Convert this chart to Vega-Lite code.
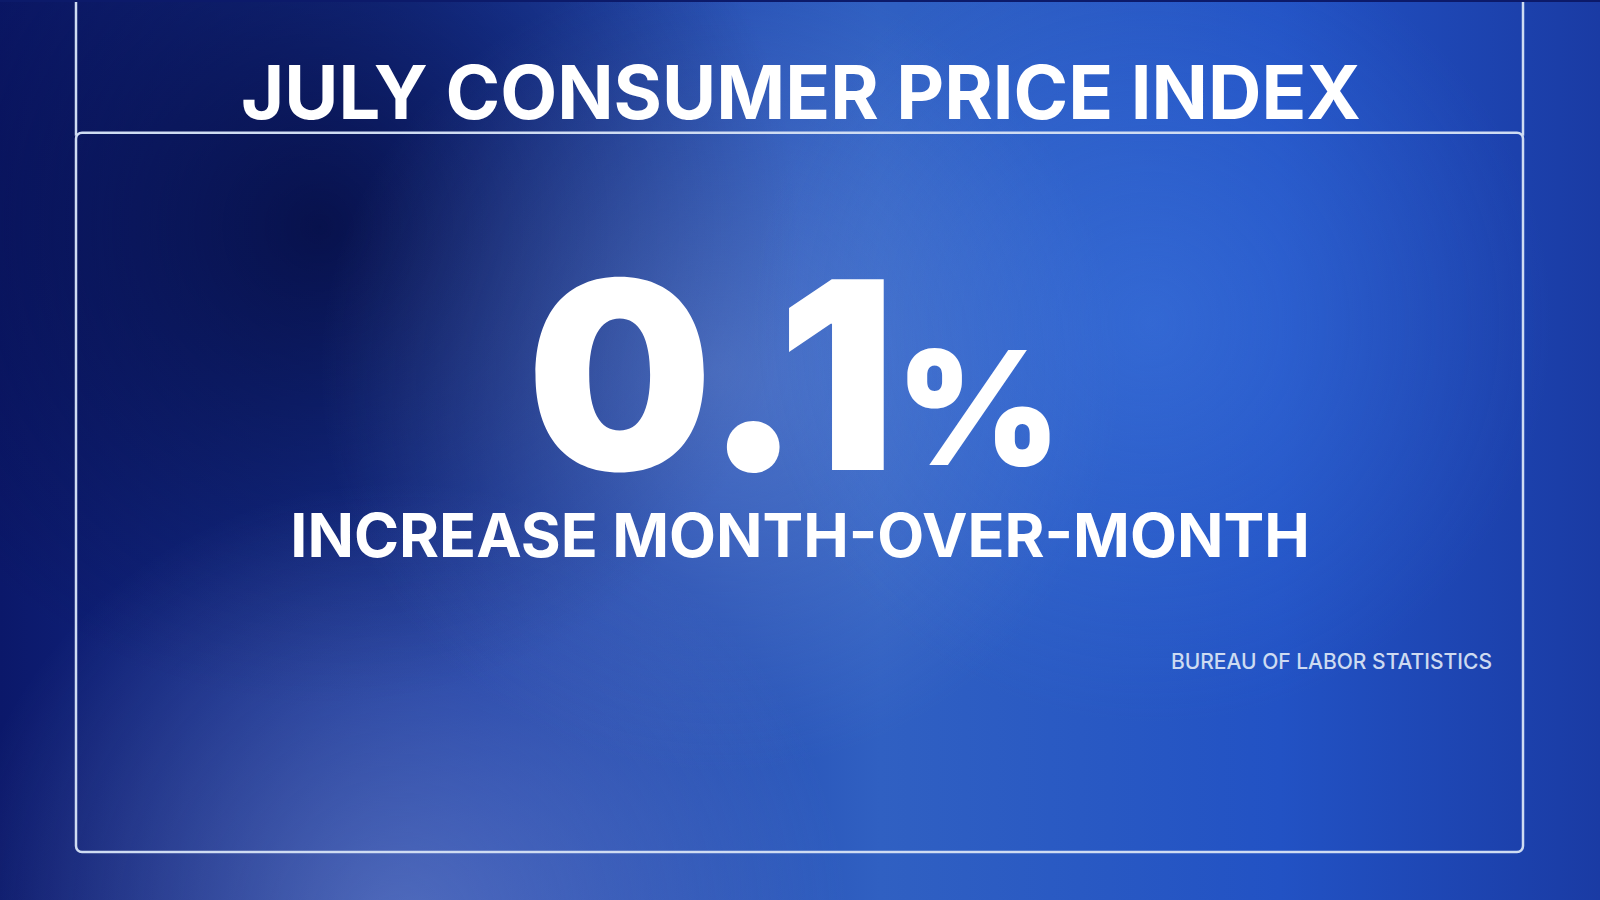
{
  "$schema": "https://vega.github.io/schema/vega-lite/v6.json",
  "width": 1600,
  "height": 900,
  "autosize": {"type": "fit", "contains": "padding"},
  "padding": 0,
  "background": "#0c1a6a",
  "config": {"view": {"stroke": null}},
  "data": {
    "values": [
      {"part": "title", "text": "JULY CONSUMER PRICE INDEX"},
      {"part": "value", "value": 0.1},
      {"part": "unit", "text": "%"},
      {"part": "subtitle", "text": "INCREASE MONTH-OVER-MONTH"},
      {"part": "source", "text": "BUREAU OF LABOR STATISTICS"}
    ]
  },
  "encoding": {
    "x": {"datum": 0, "type": "quantitative", "scale": {"domain": [0, 1600], "nice": false, "zero": false}, "axis": null},
    "y": {"datum": 0, "type": "quantitative", "scale": {"domain": [0, 900], "nice": false, "zero": false, "reverse": true}, "axis": null}
  },
  "layer": [
    {
      "data": {"values": [{}]},
      "mark": {"type": "rect", "color": {"gradient": "linear", "x1": 0, "y1": 0, "x2": 1, "y2": 0,
        "stops": [
          {"offset": 0, "color": "#0b186a"},
          {"offset": 0.3, "color": "#1a3aa0"},
          {"offset": 0.55, "color": "#3060c2"},
          {"offset": 0.8, "color": "#2252c4"},
          {"offset": 1, "color": "#1a3ba4"}
        ]}},
      "encoding": {"x": {"datum": 0}, "x2": {"datum": 1600}, "y": {"datum": 0}, "y2": {"datum": 900}}
    },
    {
      "data": {"values": [{}]},
      "mark": {"type": "rect", "color": {"gradient": "radial", "x1": 0.2, "y1": 0.36, "r1": 0, "x2": 0.2, "y2": 0.36, "r2": 0.3,
        "stops": [
          {"offset": 0, "color": "rgba(4,10,60,0.8)"},
          {"offset": 1, "color": "rgba(4,10,60,0)"}
        ]}},
      "encoding": {"x": {"datum": 0}, "x2": {"datum": 1600}, "y": {"datum": 0}, "y2": {"datum": 900}}
    },
    {
      "data": {"values": [{}]},
      "mark": {"type": "rect", "color": {"gradient": "radial", "x1": 0.25, "y1": 0.8, "r1": 0, "x2": 0.25, "y2": 0.8, "r2": 0.28,
        "stops": [
          {"offset": 0, "color": "rgba(150,175,235,0.45)"},
          {"offset": 1, "color": "rgba(150,175,235,0)"}
        ]}},
      "encoding": {"x": {"datum": 0}, "x2": {"datum": 1600}, "y": {"datum": 0}, "y2": {"datum": 900}}
    },
    {
      "data": {"values": [{}]},
      "mark": {"type": "rect", "color": {"gradient": "radial", "x1": 0.45, "y1": 0.45, "r1": 0, "x2": 0.45, "y2": 0.45, "r2": 0.25,
        "stops": [
          {"offset": 0, "color": "rgba(120,150,215,0.45)"},
          {"offset": 1, "color": "rgba(120,150,215,0)"}
        ]}},
      "encoding": {"x": {"datum": 0}, "x2": {"datum": 1600}, "y": {"datum": 0}, "y2": {"datum": 900}}
    },
    {
      "data": {"values": [{}]},
      "mark": {"type": "rect", "color": {"gradient": "radial", "x1": 0.42, "y1": 0.02, "r1": 0, "x2": 0.42, "y2": 0.02, "r2": 0.2,
        "stops": [
          {"offset": 0, "color": "rgba(100,140,215,0.45)"},
          {"offset": 1, "color": "rgba(100,140,215,0)"}
        ]}},
      "encoding": {"x": {"datum": 0}, "x2": {"datum": 1600}, "y": {"datum": 0}, "y2": {"datum": 900}}
    },
    {
      "data": {"values": [{}]},
      "mark": {"type": "rect", "color": {"gradient": "radial", "x1": 0.72, "y1": 0.42, "r1": 0, "x2": 0.72, "y2": 0.42, "r2": 0.25,
        "stops": [
          {"offset": 0, "color": "rgba(70,130,235,0.4)"},
          {"offset": 1, "color": "rgba(70,130,235,0)"}
        ]}},
      "encoding": {"x": {"datum": 0}, "x2": {"datum": 1600}, "y": {"datum": 0}, "y2": {"datum": 900}}
    },
    {
      "data": {"values": [{}]},
      "mark": {"type": "rect", "fill": null, "filled": false, "stroke": "#cfdcf2", "strokeWidth": 2.5, "cornerRadius": 6},
      "encoding": {"x": {"datum": 76}, "x2": {"datum": 1523}, "y": {"datum": 131}, "y2": {"datum": 852}}
    },
    {
      "data": {"values": [{}]},
      "mark": {"type": "rule", "stroke": "#cfdcf2", "strokeWidth": 2.5},
      "encoding": {"x": {"datum": 76}, "y": {"datum": 0}, "y2": {"datum": 134}}
    },
    {
      "data": {"values": [{}]},
      "mark": {"type": "rule", "stroke": "#cfdcf2", "strokeWidth": 2.5},
      "encoding": {"x": {"datum": 1523}, "y": {"datum": 0}, "y2": {"datum": 134}}
    },
    {
      "transform": [{"filter": "datum.part == 'title'"}],
      "mark": {"type": "text", "font": "Inter", "fontWeight": 700, "fontSize": 74, "align": "center", "baseline": "alphabetic", "color": "#ffffff"},
      "encoding": {"text": {"field": "text"}, "x": {"datum": 801}, "y": {"datum": 117}}
    },
    {
      "transform": [{"filter": "datum.part == 'value'"}],
      "mark": {"type": "text", "font": "Inter", "fontWeight": 900, "fontSize": 262, "align": "right", "baseline": "alphabetic", "color": "#ffffff"},
      "encoding": {"text": {"field": "value", "type": "quantitative", "format": ".1f"}, "x": {"datum": 896}, "y": {"datum": 469}}
    },
    {
      "transform": [{"filter": "datum.part == 'unit'"}],
      "mark": {"type": "text", "font": "Inter", "fontWeight": 900, "fontSize": 158, "align": "left", "baseline": "alphabetic", "color": "#ffffff"},
      "encoding": {"text": {"field": "text"}, "x": {"datum": 896}, "y": {"datum": 464}}
    },
    {
      "transform": [{"filter": "datum.part == 'subtitle'"}],
      "mark": {"type": "text", "font": "Inter", "fontWeight": 700, "fontSize": 61, "align": "center", "baseline": "alphabetic", "color": "#ffffff"},
      "encoding": {"text": {"field": "text"}, "x": {"datum": 800}, "y": {"datum": 556}}
    },
    {
      "transform": [{"filter": "datum.part == 'source'"}],
      "mark": {"type": "text", "font": "Inter", "fontWeight": 500, "fontSize": 21, "align": "right", "baseline": "alphabetic", "color": "#dde7f6", "opacity": 0.92},
      "encoding": {"text": {"field": "text"}, "x": {"datum": 1492}, "y": {"datum": 668}}
    }
  ]
}
